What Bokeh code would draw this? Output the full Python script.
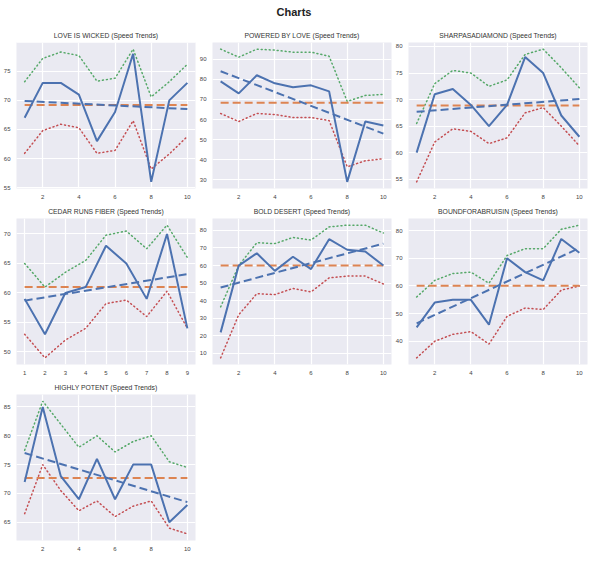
from bokeh.plotting import figure
from bokeh.layouts import gridplot, column
from bokeh.models import Div, FixedTicker
from bokeh.embed import file_html
from bokeh.resources import INLINE

names = ["LOVE IS WICKED", "POWERED BY LOVE", "SHARPASADIAMOND",
         "CEDAR RUNS FIBER", "BOLD DESERT", "BOUNDFORABRUISIN", "HIGHLY POTENT"]

speed_love = [67, 73, 73, 71, 63, 68, 78, 56, 70, 73]
upper_love = [73.2, 77.2, 78.3, 77.7, 73.3, 73.8, 78.8, 70.6, 73.2, 76.2]
lower_love = [60.9, 64.8, 65.9, 65.3, 60.9, 61.4, 66.5, 58.2, 60.8, 63.8]

speed_powered = [79, 73, 82, 78, 76, 77, 74, 29, 59, 57]
upper_powered = [95, 91, 95, 94.5, 93.5, 93.5, 91.5, 69, 72, 72.5]
lower_powered = [63, 59, 63, 62.5, 61, 61, 59.5, 36.5, 39.5, 40.5]

speed_sharp = [60, 71, 72, 69, 65, 69, 78, 75, 67, 63]
upper_sharp = [65.5, 73, 75.5, 75, 72.5, 73.7, 78.5, 79.5, 76, 72.2]
lower_sharp = [54.5, 62, 64.5, 64, 61.7, 62.8, 67.5, 68.5, 65, 61.3]

speed_cedar = [59, 53, 60, 61, 68, 65, 59, 70, 54]
upper_cedar = [65, 61, 63.5, 65.5, 69.8, 70.5, 67.5, 71.5, 66]
lower_cedar = [53, 49, 52, 54, 58.2, 58.8, 56, 60.3, 54]

speed_bold = [22, 60, 67, 57, 65, 58, 75, 69, 68, 60]
upper_bold = [36.5, 60, 73, 72.5, 76, 74.5, 82, 83, 83, 78.5]
lower_bold = [7.5, 32, 44, 43.5, 47, 45, 53, 54, 54, 49.5]

speed_bound = [45, 54, 55, 55, 46, 70, 65, 62, 77, 72]
upper_bound = [56, 62, 64.5, 65, 61, 71, 73.5, 73.5, 80.5, 82]
lower_bound = [34, 40, 42.5, 43.5, 39, 49, 52, 51.5, 58.5, 60]

speed_potent = [72, 85, 73, 69, 76, 69, 75, 75, 65, 68]
upper_potent = [77.5, 86, 82, 78, 80, 77.2, 79, 80, 75.5, 74.5]
lower_potent = [66.5, 75, 70.5, 67, 68.7, 66, 67.8, 68.7, 64, 63]

means = [69.2, 68.4, 68.9, 61.0, 60.1, 60.1, 72.7]
trend_start = [69.9, 84.0, 67.7, 58.7, 47.5, 46.5, 77.0]
trend_end = [68.5, 53.0, 70.1, 63.2, 72.5, 73.7, 68.5]

x_ticks_10 = [2, 4, 6, 8, 10]
x_ticks_9 = [1, 2, 3, 4, 5, 6, 7, 8, 9]
y_ticks = [
    [55, 60, 65, 70, 75, 80],
    [30, 40, 50, 60, 70, 80, 90],
    [55, 60, 65, 70, 75, 80],
    [50, 55, 60, 65, 70],
    [10, 20, 30, 40, 50, 60, 70, 80],
    [40, 50, 60, 70, 80],
    [65, 70, 75, 80, 85],
]

speeds = [speed_love, speed_powered, speed_sharp, speed_cedar, speed_bold, speed_bound, speed_potent]
uppers = [upper_love, upper_powered, upper_sharp, upper_cedar, upper_bold, upper_bound, upper_potent]
lowers = [lower_love, lower_powered, lower_sharp, lower_cedar, lower_bold, lower_bound, lower_potent]

BLUE = "#4C72B0"
ORANGE = "#DD8452"
GREEN = "#55A868"
RED = "#C44E52"
FONT = "Liberation Sans"

figs = []
for i, name in enumerate(names):
    s = speeds[i]
    xs = list(range(1, len(s) + 1))
    allv = s + uppers[i] + lowers[i] + [trend_start[i], trend_end[i], means[i]]
    lo, hi = min(allv), max(allv)
    pad = 0.05 * (hi - lo)
    xpad = 0.05 * (xs[-1] - xs[0])
    p = figure(width=196, height=176, output_backend="svg", toolbar_location=None,
               x_range=(xs[0] - xpad, xs[-1] + xpad), y_range=(lo - pad, hi + pad),
               min_border_left=15, min_border_right=1, min_border_top=2, min_border_bottom=14,
               title=f"{name} (Speed Trends)")
    p.title.text_font_size = "6.8px"
    p.title.text_font = FONT
    p.title.text_font_style = "normal"
    p.title.text_color = "#333333"
    p.title.align = "center"
    p.title.standoff = 7
    p.background_fill_color = "#EAEAF2"
    p.border_fill_color = "white"
    p.outline_line_color = None
    for ax in (p.xaxis[0], p.yaxis[0]):
        ax.axis_line_color = None
        ax.major_tick_line_color = None
        ax.minor_tick_line_color = None
        ax.major_tick_out = 0
        ax.major_tick_in = 0
        ax.major_label_text_font_size = "6px"
        ax.major_label_text_font = FONT
        ax.major_label_text_color = "#444444"
        ax.major_label_standoff = 6
    p.xaxis.ticker = FixedTicker(ticks=x_ticks_9 if len(s) == 9 else x_ticks_10)
    p.yaxis.ticker = FixedTicker(ticks=y_ticks[i])
    p.grid.grid_line_color = "white"
    p.grid.grid_line_width = 1.2

    p.line(xs, uppers[i], line_color=GREEN, line_width=1.5, line_dash="1 3", line_cap="round")
    p.line(xs, lowers[i], line_color=RED, line_width=1.5, line_dash="1 3", line_cap="round")
    p.line([xs[0], xs[-1]], [means[i], means[i]], line_color=ORANGE, line_width=2, line_dash="8 4")
    p.line(xs, s, line_color=BLUE, line_width=2)
    p.line([xs[0], xs[-1]], [trend_start[i], trend_end[i]], line_color=BLUE, line_width=2, line_dash="8 4")
    figs.append(p)

grid = gridplot(figs, ncols=3, toolbar_location=None)
title = Div(text="Charts", width=588, height=26, margin=0,
            styles={"font-size": "11px", "font-weight": "bold", "text-align": "center",
                    "font-family": FONT, "color": "#222222", "width": "588px",
                    "line-height": "12px", "padding-top": "6px"})
layout = column(title, grid)
open("out.html", "w").write(file_html(layout, INLINE))
